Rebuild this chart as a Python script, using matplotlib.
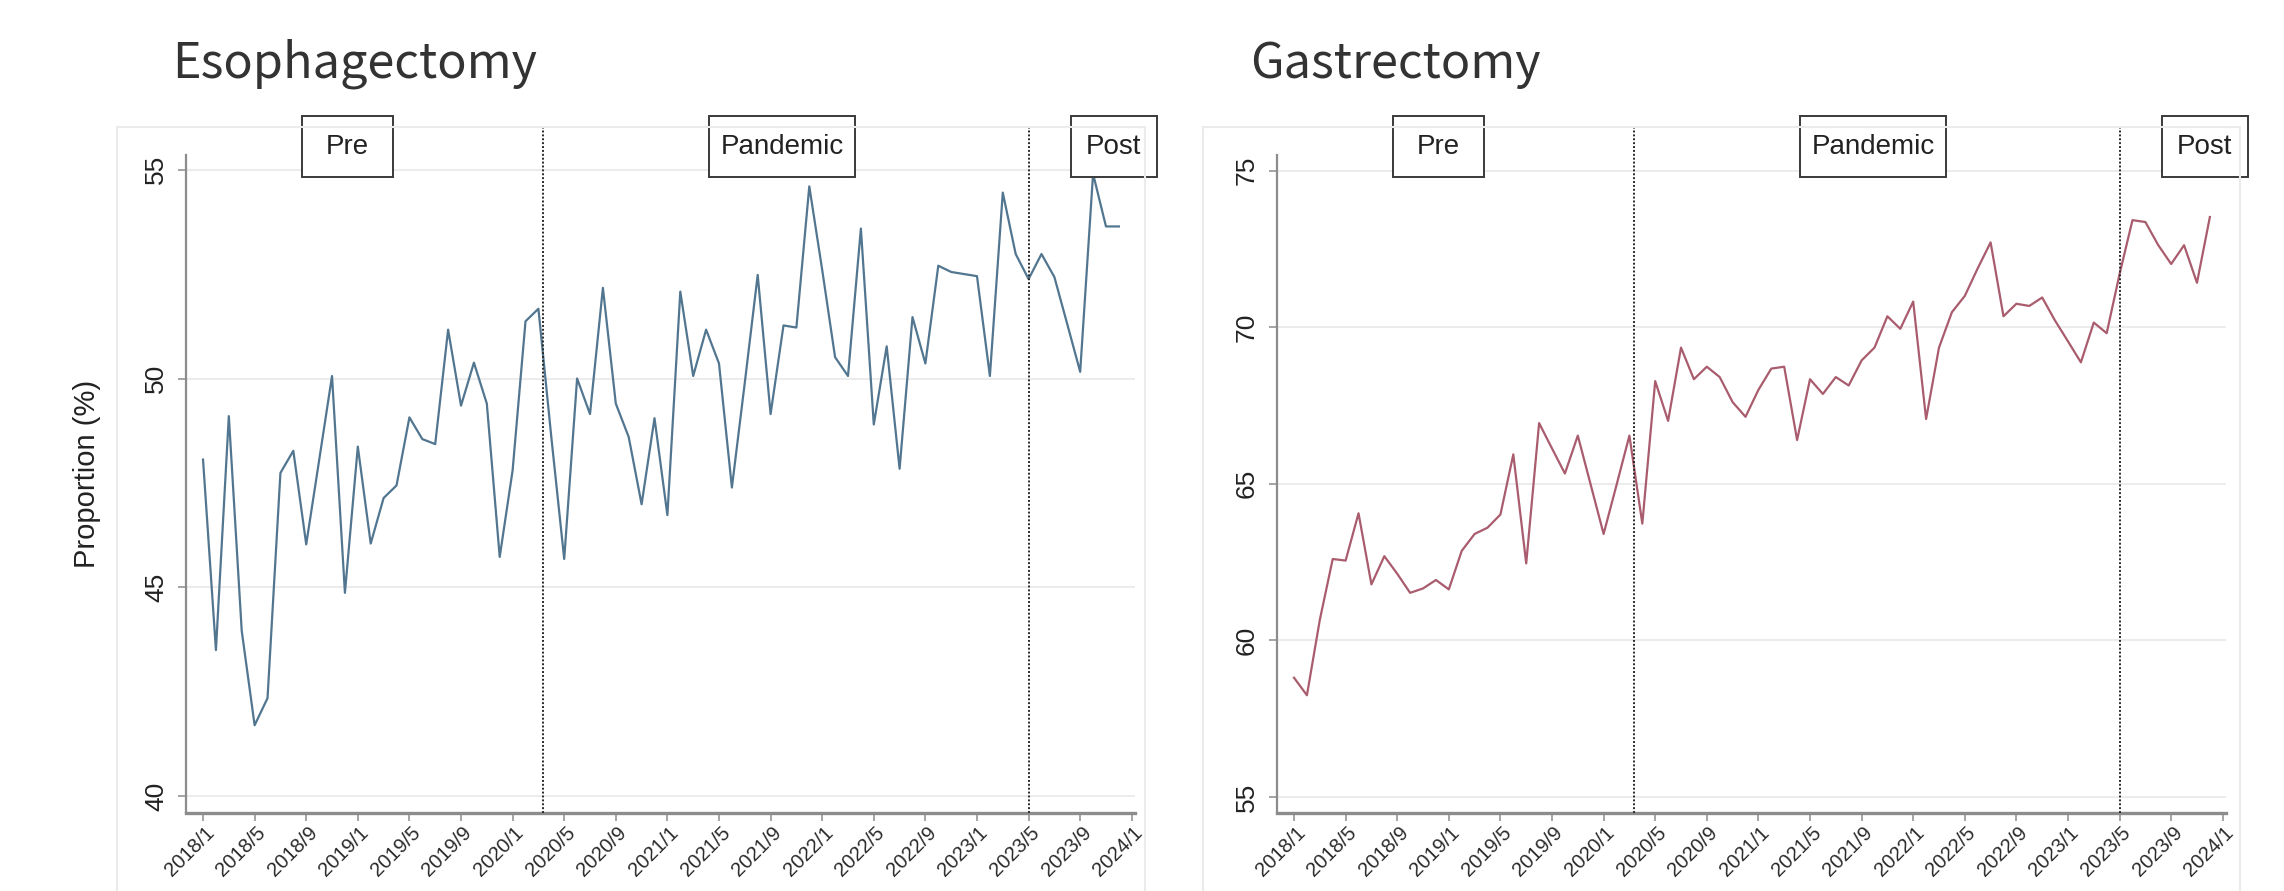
import matplotlib
matplotlib.use("Agg")
import matplotlib.pyplot as plt
from matplotlib.patches import Rectangle
from matplotlib.transforms import ScaledTranslation

# ---------------- data ----------------
years = [2018, 2019, 2020, 2021, 2022, 2023]
months = [f"{y}/{m}" for y in years for m in range(1, 13)]

esophagectomy = [
    48.06, 43.50, 49.10, 43.96, 41.70, 42.35, 47.74, 48.27, 46.03, 48.04, 50.06, 44.87,
    48.37, 46.05, 47.14, 47.44, 49.07, 48.55, 48.43, 51.17, 49.35, 50.38, 49.40, 45.73,
    47.80, 51.37, 51.67, 48.60, 45.68, 50.00, 49.15, 52.17, 49.40, 48.60, 46.99, 49.05,
    46.73, 52.08, 50.06, 51.17, 50.36, 47.39, 49.90, 52.48, 49.15, 51.27, 51.22, 54.60,
    52.60, 50.51, 50.06, 53.59, 48.90, 50.77, 47.84, 51.47, 50.36, 52.70, 52.55, 52.50,
    52.45, 50.06, 54.45, 52.98, 52.38, 52.98, 52.43, 51.30, 50.16, 54.90, 53.64, 53.64,
]

gastrectomy = [
    58.81, 58.25, 60.66, 62.60, 62.55, 64.06, 61.79, 62.69, 62.13, 61.52, 61.66, 61.93,
    61.63, 62.86, 63.40, 63.60, 64.02, 65.94, 62.46, 66.94, 66.13, 65.33, 66.54, 64.97,
    63.40, 64.96, 66.54, 63.73, 68.28, 67.01, 69.35, 68.34, 68.74, 68.41, 67.61, 67.14,
    68.00, 68.68, 68.74, 66.40, 68.34, 67.87, 68.41, 68.14, 68.94, 69.35, 70.35, 69.95,
    70.82, 67.07, 69.35, 70.48, 71.00, 71.88, 72.71, 70.35, 70.75, 70.68, 70.95, 70.21,
    69.55, 68.88, 70.15, 69.81, 71.70, 73.42, 73.36, 72.62, 72.02, 72.62, 71.42, 73.52,
]

tick_labels = ["2018/1", "2018/5", "2018/9", "2019/1", "2019/5", "2019/9",
               "2020/1", "2020/5", "2020/9", "2021/1", "2021/5", "2021/9",
               "2022/1", "2022/5", "2022/9", "2023/1", "2023/5", "2023/9", "2024/1"]
tick_pos = [4 * i for i in range(len(tick_labels))]   # month index of each label

period_breaks = [26.35, 64]           # month index of the dotted lines
period_names = ["Pre", "Pandemic", "Post"]
period_label_pos = [11.2, 44.9, 70.6]  # month index of the box centres
period_box_w = [91, 146, 86]           # px

panels = [
    dict(title="Esophagectomy", values=esophagectomy, yticks=[40, 45, 50, 55],
         ylim=(39.6, 55.35), color="#527690", ylabel="Proportion (%)"),
    dict(title="Gastrectomy", values=gastrectomy, yticks=[55, 60, 65, 70, 75],
         ylim=(54.49, 75.5), color="#a95c6d", ylabel=None),
]

# ---------------- figure ----------------
W, H = 2284, 891
fig = plt.figure(figsize=(W / 100, H / 100), dpi=100)
fig.patch.set_facecolor("white")

SANS = ["Liberation Sans", "DejaVu Sans"]
TITLEF = ["Noto Sans CJK JP", "DejaVu Sans"]

ax_left_px = [186, 1277]
ax_top, ax_bot = 155, 813
ax_w = 949
xlim = (-1.32, 72.25)
title_x = [172, 1250]
frame_x = [(117, 1145), (1203, 2240)]

x = list(range(len(months)))

for k, p in enumerate(panels):
    # faint graph-region frame
    fx0, fx1 = frame_x[k]
    fig.patches.append(Rectangle((fx0 / W, -0.05), (fx1 - fx0) / W, (H - 127) / H + 0.05,
                                 transform=fig.transFigure, fill=False,
                                 edgecolor="#ebebeb", lw=1.5, zorder=0))

    ax = fig.add_axes([ax_left_px[k] / W, (H - ax_bot) / H, ax_w / W, (ax_bot - ax_top) / H])
    ax.set_facecolor("white")
    ax.plot(x, p["values"], color=p["color"], lw=1.6, zorder=3)
    ax.set_xlim(*xlim)
    ax.set_ylim(*p["ylim"])

    for s in ["top", "right"]:
        ax.spines[s].set_visible(False)
    ax.spines["left"].set_color("#8c8c8c")
    ax.spines["left"].set_linewidth(1.6)
    ax.spines["bottom"].set_color("#8c8c8c")
    ax.spines["bottom"].set_linewidth(2.4)

    ax.set_yticks(p["yticks"])
    ax.set_yticklabels([str(v) for v in p["yticks"]], rotation=90, va="center",
                       family=SANS, fontsize=19, color="#222222")
    ax.set_xticks(tick_pos)
    ax.set_xticklabels(tick_labels, rotation=45, ha="right", va="center",
                       rotation_mode="anchor", family=SANS, fontsize=14.5, color="#2a2a2a")
    ax.tick_params(axis="y", direction="out", length=6, width=1.1, color="#8c8c8c", pad=7)
    ax.tick_params(axis="x", direction="out", length=6, width=1.1, color="#8c8c8c", pad=6)
    for lab in ax.get_xticklabels():
        lab.set_transform(lab.get_transform() + ScaledTranslation(8 / 100, 0, fig.dpi_scale_trans))

    ax.grid(axis="y", color="#ececec", lw=1.5, zorder=0)
    ax.set_axisbelow(True)

    if p["ylabel"]:
        ax.set_ylabel(p["ylabel"], family=SANS, fontsize=21, color="#222222")
        ax.yaxis.set_label_coords((101 - ax_left_px[k]) / ax_w, 0.515)

    # period dividers
    top_ext = 1 + (ax_top - 128) / (ax_bot - ax_top)
    for b in period_breaks:
        ax.axvline(b, ymin=0, ymax=top_ext, color="#2a2a2a", lw=1.4,
                   linestyle=(0, (1, 1)), clip_on=False, zorder=4)

    # period label boxes
    bh = 61 / (ax_bot - ax_top)
    yc = (ax_bot - 146.5) / (ax_bot - ax_top)
    for name, pos, bw_px in zip(period_names, period_label_pos, period_box_w):
        xc = (pos - xlim[0]) / (xlim[1] - xlim[0])
        bw = bw_px / ax_w
        ax.add_patch(Rectangle((xc - bw / 2, yc - bh / 2), bw, bh, transform=ax.transAxes,
                               facecolor="white", edgecolor="#3a3a3a", lw=1.4,
                               clip_on=False, zorder=6))
        ax.text(xc, yc, name, transform=ax.transAxes, ha="center", va="center",
                family=SANS, fontsize=20, color="#222222", zorder=7)

    fig.text(title_x[k] / W, 1 - 64 / H, p["title"], ha="left", va="center",
             family=TITLEF, fontsize=35, color="#333333")

fig.savefig("out.png", dpi=100, facecolor="white")
